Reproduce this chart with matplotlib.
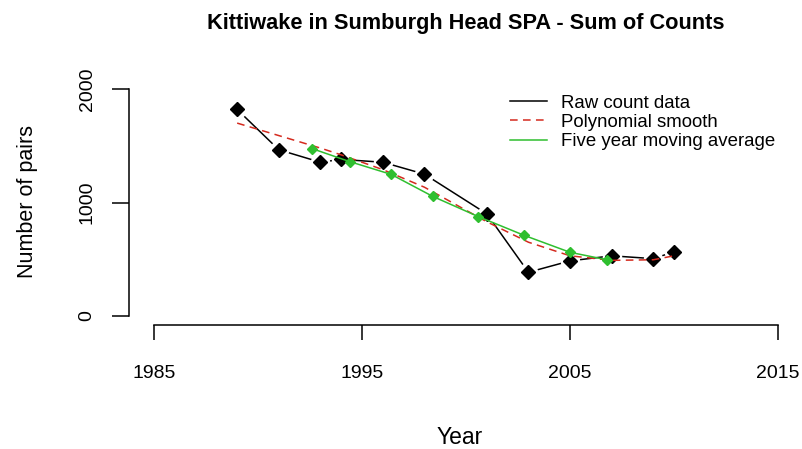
import matplotlib
matplotlib.use("Agg")
import matplotlib.pyplot as plt

plt.rcParams['font.family'] = ['Liberation Sans', 'DejaVu Sans']

# Raw counts (sum of counts per survey year)
years = [1989, 1991, 1993, 1994, 1996, 1998, 2001, 2003, 2005, 2007, 2009, 2010]
counts = [1820, 1465, 1355, 1380, 1355, 1250, 900, 385, 485, 530, 505, 565]

# Polynomial smooth, read at the survey years
poly_values = [1700, 1590, 1480, 1420, 1290, 1135, 830, 650, 530, 490, 495, 530]

# Five year moving average (centred on mean year of each window)
ma_years = [1992.6, 1994.4, 1996.4, 1998.4, 2000.6, 2002.8, 2005.0, 2006.8]
ma_values = [1475, 1361, 1248, 1054, 875, 710, 561, 494]

x_ticks = [1985, 1995, 2005, 2015]
y_ticks = [0, 1000, 2000]

W, H = 803, 449
fig = plt.figure(figsize=(W / 100, H / 100), dpi=100)
ax = fig.add_axes([129 / W, 1 - 325 / H, (W - 129) / W, (325 - 80) / H])

# raw data drawn like R type="b": line with small gaps around the points
ax.plot(years, counts, color='black', lw=1.1, zorder=2, label='Raw count data')
ax.plot(years, counts, ls='none', marker='o', ms=14, mfc='white', mec='none', zorder=2.1)
ax.plot(years, counts, ls='none', marker='D', ms=7, color='black', zorder=2.2)

ax.plot(years, poly_values, color='#d42a1e', lw=1.1, dashes=(5, 3.5), zorder=3,
        label='Polynomial smooth')
ax.plot(ma_years, ma_values, color='#2fbf2f', lw=1.1, zorder=4,
        label='Five year moving average')
ax.plot(ma_years, ma_values, ls='none', marker='D', ms=5, color='#2fbf2f', zorder=4.1)

ax.set_xlim(1983.8, 2016.2)
ax.set_ylim(-80, 2080)
ax.set_xticks(x_ticks)
ax.set_yticks(y_ticks)

for side in ['top', 'right']:
    ax.spines[side].set_visible(False)
ax.spines['left'].set_bounds(0, 2000)
ax.spines['bottom'].set_bounds(1985, 2015)
for side in ['left', 'bottom']:
    ax.spines[side].set_linewidth(1.1)

ax.tick_params(axis='x', length=11, width=1.1, pad=18, labelsize=14)
ax.tick_params(axis='y', length=12, width=1.1, pad=12, labelsize=14)
for lab in ax.get_yticklabels():
    lab.set_rotation(90)
    lab.set_va('center')

fig.text(466 / W, 1 - 23 / H, 'Kittiwake in Sumburgh Head SPA - Sum of Counts',
         ha='center', va='center', fontsize=15.7, fontweight='bold')
fig.text(460 / W, 1 - 438 / H, 'Year', ha='center', va='center', fontsize=16.5)
fig.text(28 / W, 1 - 202 / H, 'Number of pairs', ha='center', va='center',
         rotation=90, fontsize=15.5)

ax.legend(loc='upper left', bbox_to_anchor=(510 / W, 1 - 94.5 / H),
          bbox_transform=fig.transFigure, frameon=False, fontsize=13.4,
          borderpad=0, borderaxespad=0, handlelength=2.0, handletextpad=0.75,
          labelspacing=0.12)

fig.savefig('out.png', dpi=100)
